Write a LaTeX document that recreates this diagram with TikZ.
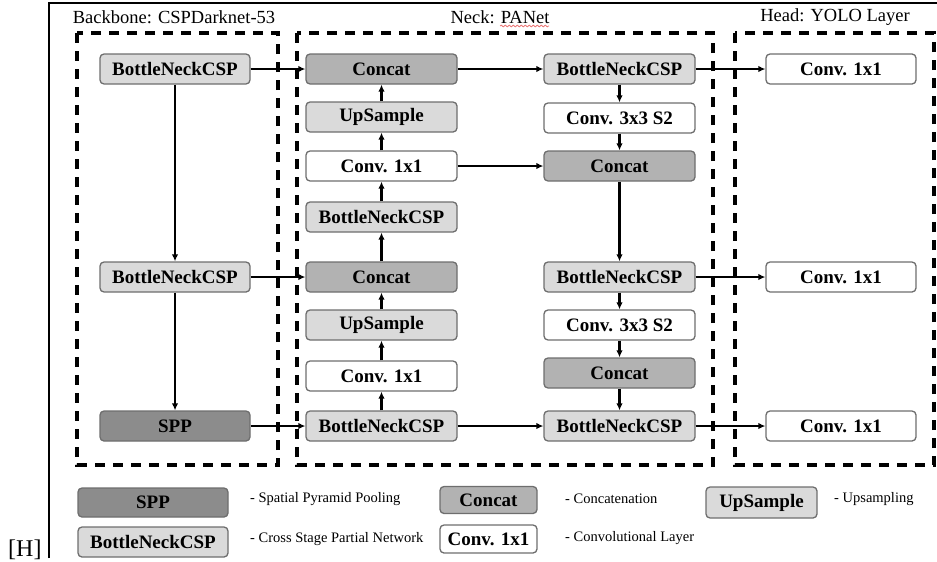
\documentclass[tikz,border=0pt]{standalone}
\usepackage{fontspec}
\setmainfont{Liberation Serif}
\usetikzlibrary{arrows.meta,decorations.pathmorphing}
\definecolor{bordergray}{RGB}{110,110,110}
\definecolor{lightg}{RGB}{218,218,218}
\definecolor{midg}{RGB}{178,178,178}
\definecolor{darkg}{RGB}{140,140,140}
\definecolor{squiggle}{RGB}{235,120,120}
\begin{document}
\begin{tikzpicture}[x=1pt,y=-1pt,
  blk/.style={draw=bordergray, line width=1.3pt, rounded corners=4pt,
    minimum width=150pt, minimum height=30pt, inner sep=0pt,
    font=\bfseries\fontsize{19}{21}\selectfont},
  bcsp/.style={blk, fill=lightg},
  concatbox/.style={blk, fill=midg},
  sppbox/.style={blk, fill=darkg},
  convbox/.style={blk, fill=white},
  upbox/.style={blk, fill=lightg},
  arr/.style={-{Latex[length=7pt,width=6.5pt]}, line width=2.1pt},
  group/.style={draw, line width=3.2pt, dash pattern=on 10pt off 8pt},
  title/.style={font=\fontsize{18.5}{20}\selectfont, inner sep=0pt},
  legtext/.style={font=\fontsize{14.5}{16}\selectfont, anchor=west, inner sep=0pt},
]
\useasboundingbox (0,0) rectangle (937,562);

% outer frame (top and left rules)
\draw[line width=2.4pt] (49,558) -- (49,3) -- (937,3);
\node[font=\fontsize{24}{26}\selectfont, anchor=base west, inner sep=0pt] (hmark) at (8,556) {[H]};

% section frames
\draw[group] (77,33) rectangle (278,465);
\draw[group] (297,33) rectangle (713,465);
\draw[group] (735,33) rectangle (934,465);
\node[title] (tback) at (174,17) {Backbone: CSPDarknet-53};
\node[title] (tneck) at (500,17) {Neck: PANet};
\node[title] (thead) at (835,17) {Head: YOLO Layer};
\coordinate (sqa) at (500,26);
\coordinate (sqb) at (549,26);
\draw[squiggle, line width=0.8pt, decorate,
  decoration={snake, amplitude=0.9pt, segment length=4pt}] (sqa) -- (sqb);

% backbone
\node[bcsp] (b1) at (175,69) {BottleNeckCSP};
\node[bcsp] (b2) at (175,277) {BottleNeckCSP};
\node[sppbox] (spp) at (175,426) {SPP};

% neck, top-down column
\node[concatbox,minimum width=151pt] (lc1) at (381.5,69) {Concat};
\node[upbox,minimum width=151pt] (lu1) at (381.5,117) {UpSample};
\node[convbox,minimum width=151pt] (lv1) at (381.5,166) {Conv. 1x1};
\node[bcsp,minimum width=151pt] (lb1) at (381.5,217) {BottleNeckCSP};
\node[concatbox,minimum width=151pt] (lc2) at (381.5,277) {Concat};
\node[upbox,minimum width=151pt] (lu2) at (381.5,325) {UpSample};
\node[convbox,minimum width=151pt] (lv2) at (381.5,376) {Conv. 1x1};
\node[bcsp,minimum width=151pt] (lb2) at (381.5,426) {BottleNeckCSP};

% neck, bottom-up column
\node[bcsp,minimum width=151pt] (rb1) at (619.5,69) {BottleNeckCSP};
\node[convbox,minimum width=151pt] (rv1) at (619.5,118) {Conv. 3x3 S2};
\node[concatbox,minimum width=151pt] (rc1) at (619.5,166) {Concat};
\node[bcsp,minimum width=151pt] (rb2) at (619.5,277) {BottleNeckCSP};
\node[convbox,minimum width=151pt] (rv2) at (619.5,325) {Conv. 3x3 S2};
\node[concatbox,minimum width=151pt] (rc2) at (619.5,373) {Concat};
\node[bcsp,minimum width=151pt] (rb3) at (619.5,426) {BottleNeckCSP};

% head
\node[convbox] (h1) at (841,69) {Conv. 1x1};
\node[convbox] (h2) at (841,277) {Conv. 1x1};
\node[convbox] (h3) at (841,426) {Conv. 1x1};

% connectors
\draw[arr] (b1) -- (b2);
\draw[arr] (b2) -- (spp);
\draw[arr] (b1) -- (lc1);
\draw[arr] (b2) -- (lc2);
\draw[arr] (spp) -- (lb2);

\draw[arr] (lb2) -- (lv2);
\draw[arr] (lv2) -- (lu2);
\draw[arr] (lu2) -- (lc2);
\draw[arr] (lc2) -- (lb1);
\draw[arr] (lb1) -- (lv1);
\draw[arr] (lv1) -- (lu1);
\draw[arr] (lu1) -- (lc1);

\draw[arr] (lc1) -- (rb1);
\draw[arr] (lv1) -- (rc1);
\draw[arr] (lb2) -- (rb3);

\draw[arr] (rb1) -- (rv1);
\draw[arr] (rv1) -- (rc1);
\draw[arr] (rc1) -- (rb2);
\draw[arr] (rb2) -- (rv2);
\draw[arr] (rv2) -- (rc2);
\draw[arr] (rc2) -- (rb3);

\draw[arr] (rb1) -- (h1);
\draw[arr] (rb2) -- (h2);
\draw[arr] (rb3) -- (h3);

% legend
\node[sppbox, minimum height=29pt] (lgspp) at (153,502.5) {SPP};
\node[legtext] (lgspptxt) at (250,499) {- Spatial Pyramid Pooling};
\node[bcsp] (lgbcsp) at (153,542) {BottleNeckCSP};
\node[legtext] (lgbcsptxt) at (250,539) {- Cross Stage Partial Network};
\node[concatbox, minimum width=97pt, minimum height=27pt] (lgcat) at (488.5,500) {Concat};
\node[legtext] (lgcattxt) at (565,499) {- Concatenation};
\node[convbox, minimum width=97pt, minimum height=28pt] (lgconv) at (488.5,539) {Conv. 1x1};
\node[legtext] (lgconvtxt) at (565,538) {- Convolutional Layer};
\node[upbox, minimum width=111pt, minimum height=31pt] (lgup) at (761.5,502.5) {UpSample};
\node[legtext] (lguptxt) at (834,499) {- Upsampling};
\end{tikzpicture}
\end{document}
